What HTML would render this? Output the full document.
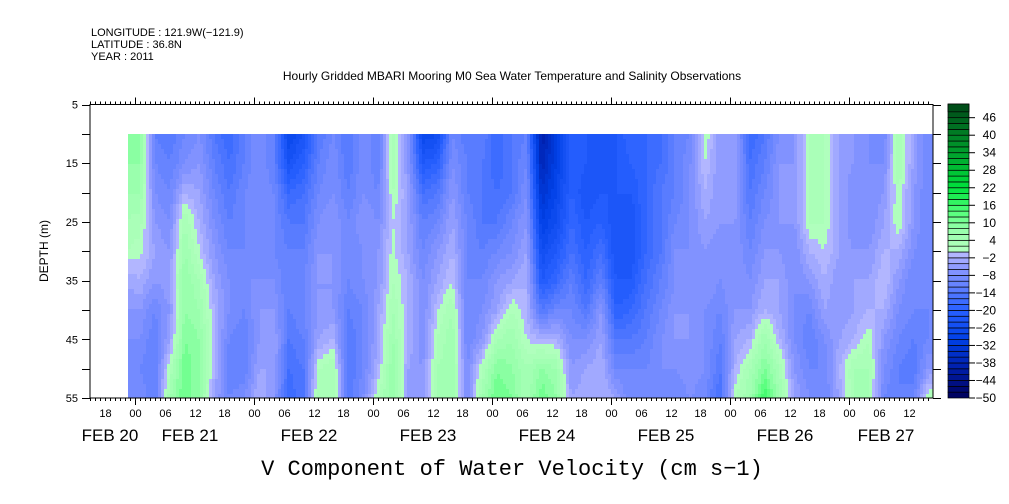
<!DOCTYPE html>
<html><head><meta charset="utf-8"><style>
html,body{margin:0;padding:0;background:#fff;}
svg{display:block;font-family:"Liberation Sans",sans-serif;}
</style></head><body>
<svg id="chart" width="1009" height="504" xmlns="http://www.w3.org/2000/svg">
<g font-size="11" fill="#000">
<text x="91" y="36">LONGITUDE : 121.9W(−121.9)</text>
<text x="91" y="48">LATITUDE : 36.8N</text>
<text x="91" y="60">YEAR : 2011</text>
</g>
<text x="512" y="80" text-anchor="middle" font-size="12">Hourly Gridded MBARI Mooring M0 Sea Water Temperature and Salinity Observations</text>
<g id="cells" shape-rendering="crispEdges"></g>
<g id="axes"></g>
<g id="cbar"></g>
<text x="48" y="251" transform="rotate(-90 48 251)" text-anchor="middle" font-size="12">DEPTH (m)</text>
<text x="512" y="475" text-anchor="middle" font-family="Liberation Mono, monospace" font-size="22">V Component of Water Velocity (cm s−1)</text>
</svg>
<script>
// hours since FEB 21 00:00 (column centers)
const hours = [-2,1,4,7,10,13,16,19,22,25,28,31,34,37,40,43,46,49,52,55,58,61,64,67,70,73,76,79,82,85,88,91,94,97,100,103,106,109,112,115,118,121,124,127,130,133,136,139,142,145,148,151,154,157,160];
const depths = [10,15,20,25,30,35,40,45,50,55];
const values = [
[8,8,6,4,2,-4,-6,-8,-8,-8],
[10,8,6,3,1,-2,-6,-8,-10,-8],
[-12,-10,-8,-6,-4,-6,-10,-12,-12,-12],
[-14,-12,-10,-8,-6,-4,-6,-4,2,6],
[-10,-8,-2,4,6,8,8,10,12,12],
[-8,-6,-4,-2,0,4,6,8,8,8],
[-14,-12,-10,-8,-6,-4,-2,-2,-2,-4],
[-18,-16,-14,-12,-10,-8,-8,-10,-12,-10],
[-12,-12,-10,-10,-10,-8,-10,-12,-12,-8],
[-8,-8,-8,-8,-8,-8,-6,-6,-4,-2],
[-12,-12,-10,-10,-10,-8,-6,-4,-4,-6],
[-28,-24,-18,-14,-12,-12,-12,-14,-16,-18],
[-24,-20,-16,-14,-12,-10,-10,-12,-14,-14],
[-14,-12,-10,-8,-6,-6,-6,-4,2,4],
[-10,-8,-8,-6,-6,-6,-6,-2,4,4],
[-14,-14,-12,-10,-10,-10,-12,-14,-14,-14],
[-8,-8,-8,-6,-8,-8,-10,-10,-10,-8],
[-12,-12,-10,-8,-6,-6,-4,-4,-2,2],
[4,4,2,0,1,2,4,6,8,8],
[-6,-6,-4,-4,-4,-2,-2,-2,-4,-4],
[-28,-22,-16,-12,-10,-8,-8,-8,-6,-6],
[-26,-20,-14,-10,-6,-4,0,2,4,4],
[-10,-8,-6,-4,-2,0,4,6,6,6],
[-14,-12,-12,-10,-10,-10,-10,-10,-8,-8],
[-12,-14,-14,-14,-12,-10,-8,-6,2,6],
[-18,-18,-16,-14,-10,-6,-4,4,10,12],
[-14,-14,-14,-10,-8,-4,2,6,8,10],
[-12,-10,-8,-6,-4,-2,-2,0,4,4],
[-40,-38,-34,-30,-26,-22,-14,-2,8,12],
[-30,-30,-28,-26,-22,-18,-10,-2,6,8],
[-20,-20,-20,-18,-16,-12,-10,-8,-6,-4],
[-22,-22,-24,-22,-20,-18,-14,-8,-4,-2],
[-24,-24,-22,-20,-16,-12,-6,-4,-2,-2],
[-22,-22,-22,-24,-24,-22,-20,-14,-10,-4],
[-18,-20,-22,-24,-24,-22,-18,-14,-10,-10],
[-18,-18,-18,-18,-18,-16,-14,-12,-10,-8],
[-16,-16,-14,-14,-14,-12,-10,-8,-8,-8],
[-12,-12,-12,-10,-8,-8,-6,-6,-8,-10],
[-10,-8,-8,-8,-8,-8,-6,-6,-6,-8],
[2,0,-2,-4,-6,-6,-8,-8,-8,-10],
[-6,-6,-6,-6,-8,-8,-10,-12,-14,-16],
[-4,-4,-4,-6,-6,-6,-6,-4,-2,2],
[-18,-16,-14,-12,-10,-8,-6,-2,4,6],
[-14,-12,-10,-8,-6,-4,-2,6,10,16],
[-8,-6,-6,-6,-6,-4,-4,-2,4,6],
[-6,-6,-6,-6,-8,-8,-8,-8,-6,-4],
[2,2,2,2,-2,-6,-10,-12,-10,-8],
[2,2,2,2,0,-2,-4,-8,-10,-10],
[-4,-4,-4,-4,-4,-6,-6,-4,-2,-4],
[-6,-6,-8,-8,-6,-4,-4,-2,4,4],
[-8,-8,-8,-8,-6,-4,-2,2,4,4],
[-10,-8,-6,-4,-2,0,-2,-6,-8,-10],
[4,4,2,2,-2,-6,-8,-10,-12,-12],
[-4,-4,-6,-6,-8,-10,-10,-12,-14,-10],
[-10,-10,-10,-10,-10,-10,-10,-10,-6,2]
];
const depthTicks = [5,15,25,35,45,55];
const hourLabels = ["18","00","06","12"];
const dayLabels = ["FEB 20","FEB 21","FEB 22","FEB 23","FEB 24","FEB 25","FEB 26","FEB 27"];
const cbarLabels = [46,40,34,28,22,16,10,4,-2,-8,-14,-20,-26,-32,-38,-44,-50];

const NS="http://www.w3.org/2000/svg";
const X0=90,X1=933,Y0=104.5,Y1=398;
const HPX=119/24;
function xs(h){return 135+h*HPX;}
function hx(x){return (x-135)/HPX;}
function ys(d){return Y0+(d-5)*(Y1-Y0)/50;}
function yd(y){return 5+(y-Y0)*50/(Y1-Y0);}
const anchors=[[-50,[0,0,90]],[-40,[0,30,170]],[-30,[0,64,230]],[-20,[40,96,255]],[-12,[96,128,255]],[-6,[136,150,255]],[-1,[178,182,255]],[1,[178,255,190]],[8,[150,255,170]],[14,[80,255,120]],[22,[0,225,60]],[34,[0,160,45]],[46,[0,96,30]],[52,[0,60,20]]];
function color(v){
  v=Math.max(-50,Math.min(51.9,v));
  let q=Math.floor(v/2)*2+1;
  if(v>=0&&v<2)q=1.5; if(v<0&&v>=-2)q=-1;
  for(let i=0;i<anchors.length-1;i++){const a=anchors[i],b=anchors[i+1];
    if(q>=a[0]&&q<=b[0]){const t=(q-a[0])/(b[0]-a[0]);
      const c=a[1].map((x,k)=>Math.round(x+(b[1][k]-x)*t));return `rgb(${c[0]},${c[1]},${c[2]})`;}}
  return "rgb(0,60,20)";
}
function sample(h,d){
  let i=0; while(i<hours.length-2&&h>hours[i+1])i++;
  let tx=(h-hours[i])/(hours[i+1]-hours[i]); tx=Math.max(0,Math.min(1,tx));
  let j=0; while(j<depths.length-2&&d>depths[j+1])j++;
  let ty=(d-depths[j])/(depths[j+1]-depths[j]); ty=Math.max(0,Math.min(1,ty));
  const a=values[i][j]*(1-ty)+values[i][j+1]*ty;
  const b=values[i+1][j]*(1-ty)+values[i+1][j+1]*ty;
  return a*(1-tx)+b*tx;
}
function el(tag,attrs,parent){const e=document.createElementNS(NS,tag);for(const k in attrs)e.setAttribute(k,attrs[k]);parent.appendChild(e);return e;}
const cells=document.getElementById('cells');
const xStart=Math.max(X0,Math.round(xs(hours[0]+0.5))), xEnd=Math.min(X1,Math.round(xs(hours[hours.length-1]+1.5)));
const yStart=Math.round(ys(depths[0])), yEnd=Math.round(ys(depths[depths.length-1]));
const SW=3, SH=5;
for(let x=xStart;x<xEnd;x+=SW){
  const w=Math.min(SW,xEnd-x);
  for(let y=yStart;y<yEnd;y+=SH){
    const h=Math.min(SH,yEnd-y);
    const r=el('rect',{x:x,y:y,width:w,height:h,fill:color(sample(hx(x+w/2),yd(y+h/2)))},cells);
    
    
  }
}
const ax=document.getElementById('axes');
el('rect',{x:X0,y:Y0,width:X1-X0,height:Y1-Y0,fill:'none',stroke:'#000','stroke-width':1},ax);
for(let h=-15;h<=161;h++){
  const x=Math.round(xs(h))+0.5; if(x<X0||x>X1)continue;
  const hh=((h%24)+24)%24; const len=hh===0?7:3;
  el('line',{x1:x,y1:Y0,x2:x,y2:Y0-len,stroke:'#000'},ax);
  el('line',{x1:x,y1:Y1,x2:x,y2:Y1+len,stroke:'#000'},ax);
  if(hh%6===0){
    const t=el('text',{x:x,y:417,'text-anchor':'middle','font-size':11},ax);
    t.textContent=hourLabels[(hh/6+1)%4];
    
    
  }
}
const dayX=[110,190,309,428,547,666,785,886];
dayLabels.forEach((s,i)=>{
  const t=el('text',{x:dayX[i],y:441,'text-anchor':'middle','font-size':17},ax);
  t.textContent=s;
  
  
});
for(let d=5;d<=55;d+=5){
  const y=Math.round(ys(d))+0.5;
  el('line',{x1:X0-8,y1:y,x2:X0,y2:y,stroke:'#000'},ax);
  el('line',{x1:X1,y1:y,x2:X1+8,y2:y,stroke:'#000'},ax);
}
depthTicks.forEach(d=>{
  const t=el('text',{x:X0-12,y:ys(d)+4,'text-anchor':'end','font-size':11},ax);
  t.textContent=d;
  
  
});
const cb=document.getElementById('cbar');
const cy=v=>398-(v+50)*2.92;
for(let v=-50;v<50;v+=2){
  const top=v+2>=48?104:cy(v+2);
  const r=el('rect',{x:948,y:top,width:21,height:cy(v)-top,fill:color(v+1),stroke:'#000','stroke-width':0.7},cb);
  
  
}
cbarLabels.forEach(v=>{
  el('line',{x1:969,y1:cy(v),x2:975,y2:cy(v),stroke:'#000'},cb);
  const t=el('text',{x:996,y:cy(v)+4,'text-anchor':'end','font-size':12},cb);
  t.textContent=v<0?'−'+(-v):v;
  
  
});
</script>
</body></html>
